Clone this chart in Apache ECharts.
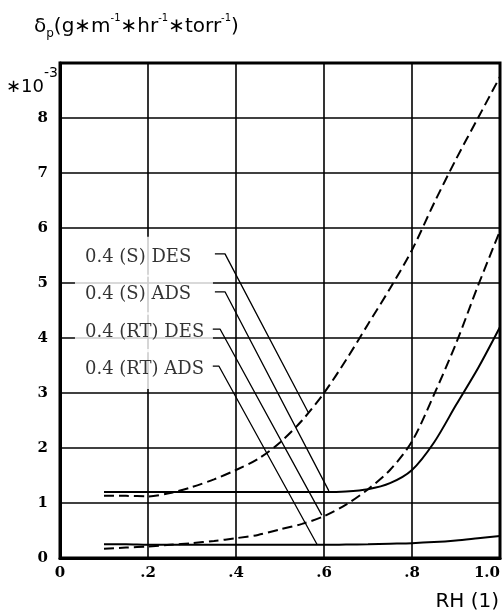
<!DOCTYPE html>
<html><head><meta charset="utf-8">
<script src="https://cdn.jsdelivr.net/npm/echarts@6/dist/echarts.min.js"></script>
<style>html,body{margin:0;padding:0;background:#fff}#c{width:503px;height:616px}</style>
</head><body><div id="c"></div>
<script>
// relative humidity (x) and permeability values (×10^-3)
const rh     = [0.1, 0.15, 0.2, 0.25, 0.3, 0.35, 0.4, 0.45, 0.5, 0.55, 0.6, 0.65, 0.7, 0.75, 0.8, 0.85, 0.9, 0.95, 1.0];
const sDes   = [1.13, 1.13, 1.12, 1.18, 1.29, 1.43, 1.6, 1.8, 2.1, 2.5, 3.0, 3.6, 4.25, 4.9, 5.6, 6.45, 7.25, 8.0, 8.75];
const sAds   = [1.2, 1.2, 1.2, 1.2, 1.2, 1.2, 1.2, 1.2, 1.2, 1.2, 1.2, 1.21, 1.25, 1.36, 1.6, 2.1, 2.78, 3.45, 4.2];
const rtDes  = [0.17, 0.19, 0.21, 0.24, 0.27, 0.31, 0.36, 0.42, 0.52, 0.62, 0.76, 0.97, 1.25, 1.6, 2.12, 2.97, 3.9, 4.95, 5.95];
const rtAds  = [0.25, 0.25, 0.24, 0.24, 0.24, 0.24, 0.24, 0.24, 0.24, 0.24, 0.24, 0.245, 0.25, 0.26, 0.27, 0.29, 0.32, 0.36, 0.4];

// annotation labels and their leader lines (data coordinates)
const labelNames   = ['0.4 (S) DES', '0.4 (S) ADS', '0.4 (RT) DES', '0.4 (RT) ADS'];
const labelBoxX    = 0.034;
const leaderStartX = [0.352, 0.352, 0.345, 0.345];
const leaderStartY = [5.53, 4.84, 4.16, 3.49];
const leaderBendX  = [0.375, 0.375, 0.364, 0.361];
const leaderEndX   = [0.564, 0.611, 0.595, 0.584];
const leaderEndY   = [2.65, 1.22, 0.78, 0.25];

const xTickLabels = ['0', '.2', '.4', '.6', '.8', '1.0'];
const yTickLabels = ['0', '1', '2', '3', '4', '5', '6', '7', '8', ''];

const chart = echarts.init(document.getElementById('c'), null, {renderer: 'canvas'});
const pts = arr => rh.map((x, i) => [x, arr[i]]);

const curveStyle = (dashed) => ({
  type: 'line', showSymbol: false, smooth: 0.3, silent: true, z: 3,
  lineStyle: {color: '#000', width: 2, type: dashed ? [10, 5] : 'solid'}
});

const series = [
  Object.assign(curveStyle(true),  {name: labelNames[0], data: pts(sDes)}),
  Object.assign(curveStyle(false), {name: labelNames[1], data: pts(sAds)}),
  Object.assign(curveStyle(true),  {name: labelNames[2], data: pts(rtDes)}),
  Object.assign(curveStyle(false), {name: labelNames[3], data: pts(rtAds)})
];
labelNames.forEach((n, i) => {
  series.push({
    type: 'line', showSymbol: false, silent: true, z: 4,
    lineStyle: {color: '#000', width: 1.3},
    data: [[leaderStartX[i], leaderStartY[i]], [leaderBendX[i], leaderStartY[i]], [leaderEndX[i], leaderEndY[i]]]
  });
});
series.push({
  type: 'scatter', symbolSize: 0, silent: true, z: 5,
  data: labelNames.map((n, i) => ({name: n, value: [labelBoxX, leaderStartY[i]]})),
  label: {
    show: true, position: 'right', distance: 0, offset: [0, 3], formatter: '{b}',
    fontFamily: 'DejaVu Serif', fontSize: 18, color: '#000',
    width: 128, lineHeight: 20, overflow: 'none',
    backgroundColor: '#fff', padding: [10, 0, 10, 10]
  }
});

chart.setOption({
  animation: false,
  backgroundColor: '#fff',
  grid: {left: 60, right: 3, top: 63, bottom: 58, show: true, borderColor: '#000', borderWidth: 3, backgroundColor: 'transparent'},
  xAxis: {
    type: 'value', min: 0, max: 1, interval: 0.2,
    axisLine: {show: true, lineStyle: {color: '#000', width: 3}},
    axisTick: {show: false},
    splitLine: {show: true, lineStyle: {color: '#000', width: 1.6}},
    axisLabel: {
      margin: 8, color: '#000', fontFamily: 'DejaVu Serif', fontWeight: 'bold', fontSize: 15,
      alignMaxLabel: 'right',
      formatter: v => xTickLabels[Math.round(v / 0.2)]
    }
  },
  yAxis: {
    type: 'value', min: 0, max: 9, interval: 1,
    axisLine: {show: true, lineStyle: {color: '#000', width: 3}},
    axisTick: {show: false},
    splitLine: {show: true, lineStyle: {color: '#000', width: 1.6}},
    axisLabel: {
      margin: 12, color: '#000', fontFamily: 'DejaVu Serif', fontWeight: 'bold', fontSize: 15,
      formatter: v => yTickLabels[Math.round(v)]
    }
  },
  graphic: [
    {
      type: 'text', left: 34, top: 13,
      style: {
        text: '{a|δ}{p|p}{a|(g∗m}{s|-1}{a|∗hr}{s|-1}{a|∗torr}{s|-1}{a|)}',
        rich: {
          a: {fontFamily: 'DejaVu Sans', fontSize: 20, fill: '#000', lineHeight: 27, verticalAlign: 'middle'},
          p: {fontFamily: 'DejaVu Sans', fontSize: 12, fill: '#000', verticalAlign: 'bottom', lineHeight: 12},
          s: {fontFamily: 'DejaVu Sans', fontSize: 10, fill: '#000', verticalAlign: 'top', lineHeight: 10}
        }
      }
    },
    {
      type: 'text', left: 6, top: 66,
      style: {
        text: '{a|∗10}{s|-3}',
        rich: {
          a: {fontFamily: 'DejaVu Sans', fontSize: 18, fill: '#000', lineHeight: 30, verticalAlign: 'bottom'},
          s: {fontFamily: 'DejaVu Sans', fontSize: 14, fill: '#000', verticalAlign: 'top', lineHeight: 14}
        }
      }
    },
    {
      type: 'text', right: 4, top: 592,
      style: {text: 'RH (1)', fontFamily: 'DejaVu Sans', fontSize: 20, fill: '#000'}
    }
  ],
  series: series
});
</script>
</body></html>
